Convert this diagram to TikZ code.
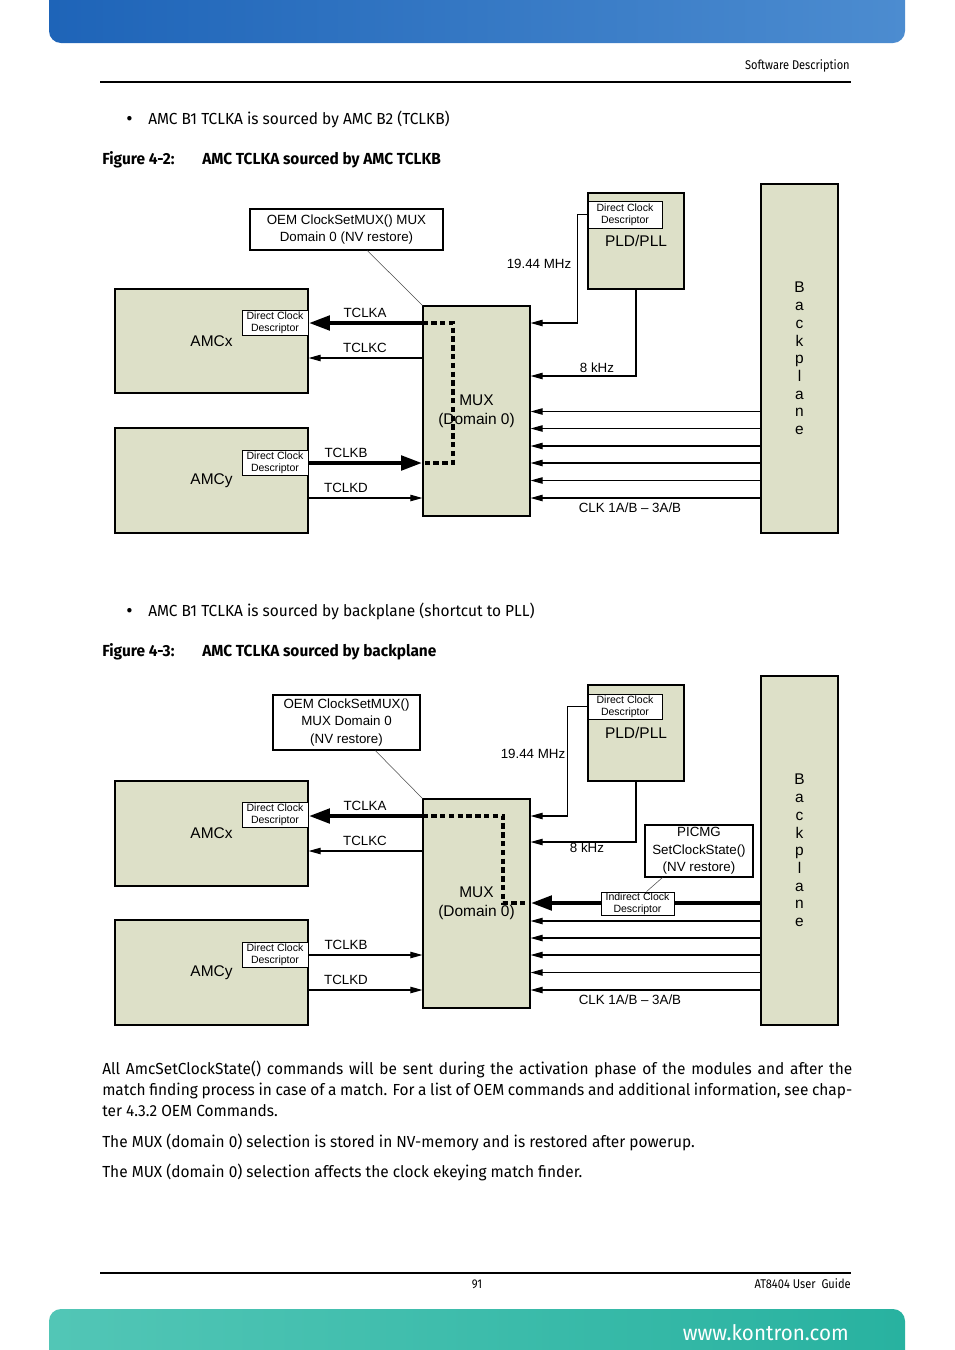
\documentclass[tikz,border=0pt]{standalone}
\usepackage{fontspec}
\setmainfont{Liberation Sans}
\newfontfamily\bodyf{Fira Sans}[FakeStretch=0.965]
\newfontfamily\smallf{Fira Sans}[FakeStretch=0.875]
\usetikzlibrary{arrows.meta}
\definecolor{boxfill}{RGB}{221,224,200}
\definecolor{hdrL}{RGB}{30,100,184}
\definecolor{hdrR}{RGB}{76,140,208}
\definecolor{ftrL}{RGB}{82,198,182}
\definecolor{ftrR}{RGB}{40,178,160}
\begin{document}
\begin{tikzpicture}[x=0.75pt,y=-0.75pt,
  wh/.style 2 args={minimum width=#1*0.75pt, minimum height=#2*0.75pt},
  box/.style={draw, line width=0.9pt, fill=boxfill, inner sep=0pt, align=center, font=\fontsize{11.6}{14.25}\selectfont},
  wbox/.style={draw, line width=0.9pt, fill=white, inner sep=0pt, align=center},
  desc/.style={draw, line width=0.7pt, fill=white, inner sep=0pt, align=center, font=\fontsize{7.9}{9}\selectfont},
  lbl/.style={font=\fontsize{10}{12}\selectfont, inner sep=0pt},
  oemtxt/.style={font=\fontsize{10}{12.9}\selectfont},
  thinarrow/.style={line width=0.8pt, -{Triangle[length=9pt,width=4.8pt]}},
  thickarrow/.style={line width=3.6pt, -{Triangle[length=16pt,width=10.5pt]}},
  plainline/.style={line width=0.8pt},
  leader/.style={line width=0.4pt, draw=black!70},
  dsh/.style={line width=3.4pt, dash pattern=on 4pt off 2.6pt},
  body/.style={font=\bodyf\fontsize{12}{15}\selectfont, inner sep=0pt, anchor=base west},
  bodyb/.style={font=\bodyf\bfseries\fontsize{12}{15}\selectfont, inner sep=0pt, anchor=base west},
  small/.style={font=\smallf\fontsize{9.5}{12}\selectfont, inner sep=0pt}
]
\useasboundingbox (0,0) rectangle (954,1350);
\fill[white] (0,0) rectangle (954,1350);

% ---------- page header / footer ----------
\shade[left color=hdrL, right color=hdrR, rounded corners=9pt] (49,-30) rectangle (905,43);
\node[small, anchor=base east] (hdr) at (850,69) {Software Description};
\draw[line width=0.8pt] (100,82) -- (851,82);

\draw[line width=0.8pt] (100,1273) -- (851,1273);
\node[small, anchor=base] (pg) at (477,1288) {91};
\node[small, anchor=base east] (guide) at (851,1288) {AT8404 User\ \ Guide};
\shade[left color=ftrL, right color=ftrR, rounded corners=9pt] (49,1309) rectangle (905,1380);
\node[font=\bodyf\fontsize{16}{18}\selectfont, text=white, inner sep=0pt, anchor=base east] (www) at (849,1340) {www.kontron.com};

% ---------- text ----------
\node[body, font=\bodyf\fontsize{15}{15}\selectfont] (bul1) at (126,125) {•};
\node[body] (t1) at (148,124.5) {AMC B1 TCLKA is sourced by AMC B2 (TCLKB)};
\node[bodyb] (cap1a) at (102,164.5) {Figure 4-2:};
\node[bodyb] (cap1b) at (202,164.5) {AMC TCLKA sourced by AMC TCLKB};

\node[body, font=\bodyf\fontsize{15}{15}\selectfont] (bul2) at (126,617) {•};
\node[body] (t2) at (148,616.5) {AMC B1 TCLKA is sourced by backplane (shortcut to PLL)};
\node[bodyb] (cap2a) at (102,656.5) {Figure 4-3:};
\node[bodyb] (cap2b) at (202,656.5) {AMC TCLKA sourced by backplane};

\node[body] (p1) at (102,1074) {\makebox[562.5pt][s]{All AmcSetClockState() commands will be sent during the activation phase of the modules and after the}};
\node[body] (p2) at (102,1095) {\makebox[562.5pt][s]{match finding process in case of a match. For a list of OEM commands and additional information, see chap-}};
\node[body] (p3) at (102,1116) {ter 4.3.2 OEM Commands.};
\node[body] (p4) at (102,1147) {The MUX (domain 0) selection is stored in NV-memory and is restored after powerup.};
\node[body] (p5) at (102,1177) {The MUX (domain 0) selection affects the clock ekeying match finder.};

% ================= Figure 4-2 =================
\node[wbox, wh={193}{41}, oemtxt] (oem1) at (346.5,229.5) {OEM ClockSetMUX() MUX\\Domain 0 (NV restore)};
\node[box, wh={193}{104}] (amcx1) at (211.5,341) {AMCx};
\node[box, wh={193}{105}] (amcy1) at (211.5,480.5) {AMCy};
\node[desc, wh={66}{25}] (dx1) at (275,322.5) {Direct Clock\\Descriptor};
\node[desc, wh={66}{25}] (dy1) at (275,462.5) {Direct Clock\\Descriptor};
\node[box, wh={107}{210}] (mux1) at (476.5,411) {MUX\\(Domain 0)};
\node[box, wh={96}{96}] (pld1) at (636,241) {PLD/PLL};
\node[desc, wh={74}{27}] (pd1) at (625,214.5) {Direct Clock\\Descriptor};
\node[box, wh={77}{349}, font=\fontsize{11.6}{13.3}\selectfont] (bp1) at (799.5,358.5) {B\\a\\c\\k\\p\\l\\a\\n\\e};

\draw[leader] ([xshift=118*0.75pt]oem1.south west) -- (mux1.north west);

\coordinate (yA1) at (0,323);
\coordinate (yC1) at (0,358);
\coordinate (yB1) at (0,463);
\coordinate (yD1) at (0,498);
\draw[thickarrow] (mux1.west |- yA1) -- (amcx1.east |- yA1);
\draw[thinarrow] (mux1.west |- yC1) -- (amcx1.east |- yC1);
\draw[thickarrow] (amcy1.east |- yB1) -- (mux1.west |- yB1);
\draw[thinarrow] (amcy1.east |- yD1) -- (mux1.west |- yD1);
\coordinate (dc1) at (453,463);
\draw[dsh] (mux1.west |- yA1) -| (dc1) -- (mux1.west |- dc1);
\node[lbl] (lA1) at (365,313) {TCLKA};
\node[lbl] (lC1) at (365,348) {TCLKC};
\node[lbl] (lB1) at (346,453) {TCLKB};
\node[lbl] (lD1) at (346,488) {TCLKD};

\draw[thinarrow] (pd1.west) -- ++(-10,0) |- (mux1.east |- yA1);
\coordinate (y8a) at (0,376);
\draw[thinarrow] (pld1.south) |- (mux1.east |- y8a);
\node[lbl] (l19a) at (539,264) {19.44 MHz};
\node[lbl] (l8a) at (597,368) {8 kHz};

\foreach \yy [count=\i] in {411.5,428.5,446,463,480.5,498} {
  \coordinate (bpa\i) at (0,\yy);
  \draw[thinarrow] (bp1.west |- bpa\i) -- (mux1.east |- bpa\i);
}
\node[lbl] (clk1) at (630,508) {CLK 1A/B -- 3A/B};

% ================= Figure 4-3 =================
\node[wbox, wh={147}{55}, font=\fontsize{10}{13.1}\selectfont] (oem2) at (346.5,722.5) {OEM ClockSetMUX()\\MUX Domain 0\\(NV restore)};
\node[box, wh={193}{105}] (amcx2) at (211.5,833.5) {AMCx};
\node[box, wh={193}{105}] (amcy2) at (211.5,972.5) {AMCy};
\node[desc, wh={66}{25}] (dx2) at (275,814.5) {Direct Clock\\Descriptor};
\node[desc, wh={66}{25}] (dy2) at (275,954.5) {Direct Clock\\Descriptor};
\node[box, wh={107}{209}] (mux2) at (476.5,903.5) {MUX\\(Domain 0)};
\node[box, wh={96}{96}] (pld2) at (636,733) {PLD/PLL};
\node[desc, wh={74}{25}] (pd2) at (625,706.5) {Direct Clock\\Descriptor};
\node[box, wh={77}{349}, font=\fontsize{11.6}{13.3}\selectfont] (bp2) at (799.5,850.5) {B\\a\\c\\k\\p\\l\\a\\n\\e};

\draw[leader] ([xshift=103*0.75pt]oem2.south west) -- (mux2.north west);

\coordinate (yA2) at (0,816);
\coordinate (yC2) at (0,851);
\coordinate (yB2) at (0,955);
\coordinate (yD2) at (0,990);
\draw[thickarrow] (mux2.west |- yA2) -- (amcx2.east |- yA2);
\draw[thinarrow] (mux2.west |- yC2) -- (amcx2.east |- yC2);
\draw[thinarrow] (amcy2.east |- yB2) -- (mux2.west |- yB2);
\draw[thinarrow] (amcy2.east |- yD2) -- (mux2.west |- yD2);
\node[lbl] (lA2) at (365,806) {TCLKA};
\node[lbl] (lC2) at (365,841) {TCLKC};
\node[lbl] (lB2) at (346,945) {TCLKB};
\node[lbl] (lD2) at (346,980) {TCLKD};

\draw[thinarrow] (pd2.west) -- ++(-20,0) |- (mux2.east |- yA2);
\coordinate (y8b) at (0,842);
\draw[thinarrow] (pld2.south) |- (mux2.east |- y8b);
\node[lbl] (l19b) at (533,754) {19.44 MHz};
\node[lbl] (l8b) at (587,848) {8 kHz};

\coordinate (yI2) at (0,903);
\draw[thickarrow] (bp2.west |- yI2) -- (mux2.east |- yI2);
\coordinate (dc2) at (503,903);
\coordinate (de2) at (525,903);
\draw[dsh] (mux2.west |- yA2) -| (dc2) -- (de2);

\node[wbox, wh={108}{52}, font=\fontsize{10}{13}\selectfont] (picmg) at (699,851) {PICMG\\SetClockState()\\(NV restore)};
\node[desc, wh={73}{23}] (idesc) at (637.5,903.5) {Indirect Clock\\Descriptor};
\draw[leader] ([xshift=18*0.75pt]picmg.south west) -- ([xshift=46*0.75pt]idesc.north west);

\foreach \yy [count=\i] in {921,938,955,972.5,990} {
  \coordinate (bpb\i) at (0,\yy);
  \draw[thinarrow] (bp2.west |- bpb\i) -- (mux2.east |- bpb\i);
}
\node[lbl] (clk2) at (630,1000) {CLK 1A/B -- 3A/B};
\end{tikzpicture}
\end{document}
